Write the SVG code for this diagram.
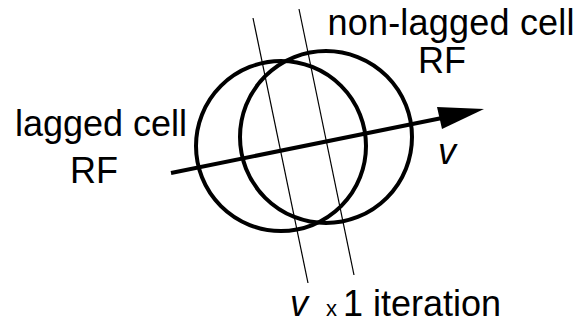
<svg xmlns="http://www.w3.org/2000/svg" width="582" height="324" viewBox="0 0 582 324">
<style>
.t{font-family:"Liberation Sans",Arial,sans-serif;font-size:36px;fill:#000}
.i{font-style:italic}
.c{fill:none;stroke:#000;stroke-width:4}
.thin{stroke:#000;stroke-width:1.2;fill:none}
</style>
<rect width="582" height="324" fill="#fff"/>
<g id="lagged-rf">
<circle class="c" cx="281" cy="146" r="85"/>
</g>
<g id="nonlagged-rf">
<circle class="c" cx="326" cy="137" r="86"/>
</g>
<g id="connectors">
<line class="thin" x1="253" y1="18" x2="308" y2="283"/>
<line class="thin" x1="299" y1="9" x2="354" y2="275"/>
<line x1="171" y1="173" x2="442" y2="118" stroke="#000" stroke-width="4"/>
<polygon points="484,109 437,107 442,129" fill="#000"/>
</g>
<g id="labels">
<text class="t" x="451" y="35" text-anchor="middle" textLength="247">non-lagged cell</text>
<text class="t" x="442" y="73" text-anchor="middle">RF</text>
<text class="t" x="101" y="136" text-anchor="middle">lagged cell</text>
<text class="t" x="94" y="183" text-anchor="middle">RF</text>
<text class="t i" x="438" y="164">v</text>
<text class="t i" x="290" y="316">v</text>
<text class="t" x="326" y="316" style="font-size:22px">x</text>
<text class="t" x="343" y="316">1 iteration</text>
</g>
</svg>
